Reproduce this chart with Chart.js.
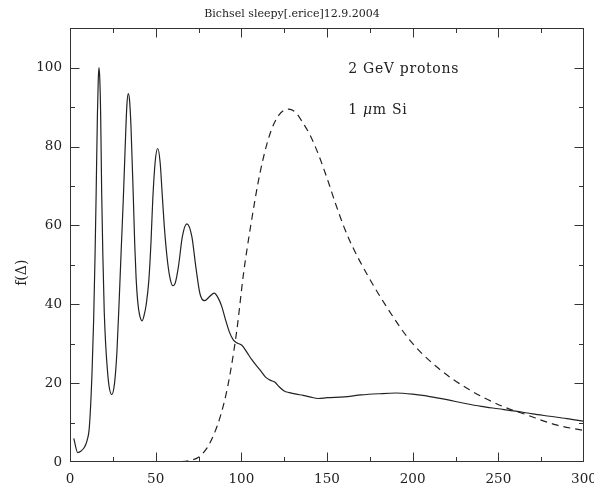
<!DOCTYPE html>
<html><head><meta charset="utf-8">
<script src="https://cdn.jsdelivr.net/npm/chart.js@4"></script>
<style>html,body{margin:0;padding:0;background:#fff}#wrap{width:594px;height:485px}</style>
</head><body><div id="wrap"><canvas id="c" width="594" height="485"></canvas></div>
<script>
const titleText = 'Bichsel sleepy[.erice]12.9.2004';
const yAxisLabel = 'f(Δ)';
const xTickValues = [0, 50, 100, 150, 200, 250, 300];
const xMinorTicks = [25, 75, 125, 175, 225, 275];
const yTickValues = [0, 20, 40, 60, 80, 100];
const yMinorTicks = [10, 30, 50, 70, 90];

// solid curve: straggling function for 1 um Si
const solidDelta = [2.2, 4.5, 6.5, 8.5, 10, 11.3, 12.85, 13.8, 14.6, 15.2, 16.0, 16.5, 16.9, 17.4, 17.9, 18.5, 19.2, 20.0, 20.8, 21.8, 22.8, 24.4, 26.0, 27.4, 28.8, 30.0, 31.1, 32.3, 33.2, 34.0, 34.8, 35.6, 37.0, 37.8, 38.6, 39.5, 40.6, 42.1, 43.3, 44.5, 46.0, 47.3, 48.3, 49.8, 51.2, 52.6, 53.8, 55.0, 56.5, 58.2, 60.0, 61.5, 63.3, 65.6, 68.2, 71.1, 73.4, 75.9, 78.5, 81.8, 84.1, 86.6, 88.6, 90.5, 93.0, 95.4, 97.5, 100.3, 103.0, 106.0, 111.0, 114.0, 117.0, 119.5, 122.0, 125.0, 128.0, 132.0, 136.0, 140.0, 145.0, 150.0, 160.0, 170.0, 180.0, 190.0, 200.0, 210.0, 220.0, 230.0, 240.0, 250.0, 260.0, 270.0, 280.0, 290.0, 300.0];
const solidF = [6.0, 2.4, 2.8, 3.8, 5.5, 8.9, 22.5, 36, 52, 66.5, 88, 97, 100, 97, 88, 68, 52, 38, 30, 23.5, 19.2, 17.1, 20, 28, 42, 55, 66.5, 81, 90.5, 93.4, 91.5, 85, 66.5, 55, 46.5, 40.8, 37.3, 35.8, 37.3, 40, 46, 56, 66.5, 76.5, 79.5, 76, 68, 60, 52.5, 47, 44.7, 45.5, 49.6, 57.2, 60.4, 57.2, 49.6, 42.6, 40.9, 42.1, 42.8, 41.5, 39.4, 36.5, 33.0, 30.9, 30.2, 29.6, 28.0, 26.0, 23.3, 21.6, 20.7, 20.3, 19.1, 18.0, 17.6, 17.2, 16.9, 16.5, 16.1, 16.3, 16.5, 17.0, 17.3, 17.5, 17.2, 16.6, 15.8, 14.9, 14.1, 13.5, 12.9, 12.2, 11.6, 11.0, 10.3];

// dashed curve
const dashedDelta = [58, 65, 70, 75, 80, 84, 87.7, 91, 93.5, 97.4, 101.2, 105.5, 111, 116.8, 122, 127.5, 132, 136.2, 140, 145, 150, 155, 160, 165, 173.1, 184.7, 198.3, 213.8, 233.2, 252.6, 266.3, 283.7, 297.3, 300];
const dashedF = [0, 0.1, 0.4, 1.2, 3.6, 7, 11.5, 17, 22.5, 33.5, 47.5, 60, 73.5, 83.3, 88, 89.5, 88.5, 85.8, 83, 78, 72, 65.5, 59.5, 54.5, 47.8, 39.4, 30.9, 24.2, 18.3, 14.1, 12.0, 9.4, 8.2, 8.0];

const noteLine1 = '2 GeV protons';
const noteLine2 = ['1 ', 'μ', 'm Si'];

const toPts = (xs, ys) => xs.map((v, i) => ({x: v, y: ys[i]}));

const FONT = 'DejaVu Serif';
const INK = '#222';

const framePlugin = {
  id: 'frame',
  afterDraw(chart) {
    const {ctx, chartArea: a, scales: {x, y}} = chart;
    ctx.save();
    ctx.strokeStyle = '#333';
    ctx.lineWidth = 1;
    const L = Math.round(a.left) + 0.5, R = Math.round(a.right) - 0.5;
    const T = Math.round(a.top) + 0.5, B = Math.round(a.bottom) - 0.5;
    ctx.strokeRect(L, T, R - L, B - T);
    const xt = (vals, len) => vals.forEach(v => {
      const p = Math.round(x.getPixelForValue(v)) + 0.5;
      ctx.beginPath(); ctx.moveTo(p, B); ctx.lineTo(p, B - len); ctx.stroke();
      ctx.beginPath(); ctx.moveTo(p, T); ctx.lineTo(p, T + len); ctx.stroke();
    });
    const yt = (vals, len) => vals.forEach(v => {
      const p = Math.round(y.getPixelForValue(v)) + 0.5;
      ctx.beginPath(); ctx.moveTo(L, p); ctx.lineTo(L + len, p); ctx.stroke();
      ctx.beginPath(); ctx.moveTo(R, p); ctx.lineTo(R - len, p); ctx.stroke();
    });
    xt(xTickValues.slice(1, -1), 9); xt(xMinorTicks, 4.5);
    yt(yTickValues.slice(1), 9); yt(yMinorTicks, 4.5);

    // y axis label
    ctx.fillStyle = INK;
    ctx.font = '14px "' + FONT + '"';
    ctx.textAlign = 'center'; ctx.textBaseline = 'middle';
    ctx.save();
    ctx.translate(22, y.getPixelForValue(48));
    ctx.rotate(-Math.PI / 2);
    ctx.fillText(yAxisLabel, 0, 0);
    ctx.restore();

    // annotations
    ctx.textAlign = 'left'; ctx.textBaseline = 'alphabetic';
    try { ctx.letterSpacing = '0.7px'; } catch (e) {}
    const nx = x.getPixelForValue(162.4);
    ctx.fillText(noteLine1, nx, y.getPixelForValue(98.7));
    let cx = nx; const by = y.getPixelForValue(88.3);
    noteLine2.forEach((s, i) => {
      ctx.font = (i === 1 ? 'italic ' : '') + '14px "' + FONT + '"';
      ctx.fillText(s, cx, by);
      cx += ctx.measureText(s).width;
    });
    ctx.restore();
  }
};

new Chart(document.getElementById('c'), {
  type: 'line',
  data: {
    datasets: [
      {data: toPts(solidDelta, solidF), borderColor: INK, borderWidth: 1.2, pointRadius: 0, cubicInterpolationMode: 'monotone', fill: false},
      {data: toPts(dashedDelta, dashedF), borderColor: INK, borderWidth: 1.2, borderDash: [7, 5], pointRadius: 0, cubicInterpolationMode: 'monotone', fill: false}
    ]
  },
  options: {
    responsive: false,
    animation: false,
    devicePixelRatio: 1,
    layout: {padding: {left: 0, right: 10, top: 0, bottom: 0}},
    plugins: {
      legend: {display: false},
      tooltip: {enabled: false},
      title: {display: true, text: titleText, color: INK, font: {family: FONT, size: 11, weight: 'normal'}, padding: {top: 8, bottom: 7}}
    },
    scales: {
      x: {
        type: 'linear', min: 0, max: 300,
        grid: {display: false, drawTicks: false}, border: {display: false},
        afterBuildTicks: s => { s.ticks = xTickValues.map(v => ({value: v})); },
        afterFit: s => { s.height = 23; s.paddingLeft = 0; s.paddingRight = 0; },
        ticks: {color: INK, font: {family: FONT, size: 13.5}, padding: 9, maxRotation: 0, autoSkip: false}
      },
      y: {
        type: 'linear', min: 0, max: 110,
        grid: {display: false, drawTicks: false}, border: {display: false},
        afterBuildTicks: s => { s.ticks = yTickValues.map(v => ({value: v})); },
        afterFit: s => { s.width = 70; s.paddingTop = 0; s.paddingBottom = 0; },
        ticks: {color: INK, font: {family: FONT, size: 13.5}, padding: 8}
      }
    }
  },
  plugins: [framePlugin]
});
</script>
</body></html>
